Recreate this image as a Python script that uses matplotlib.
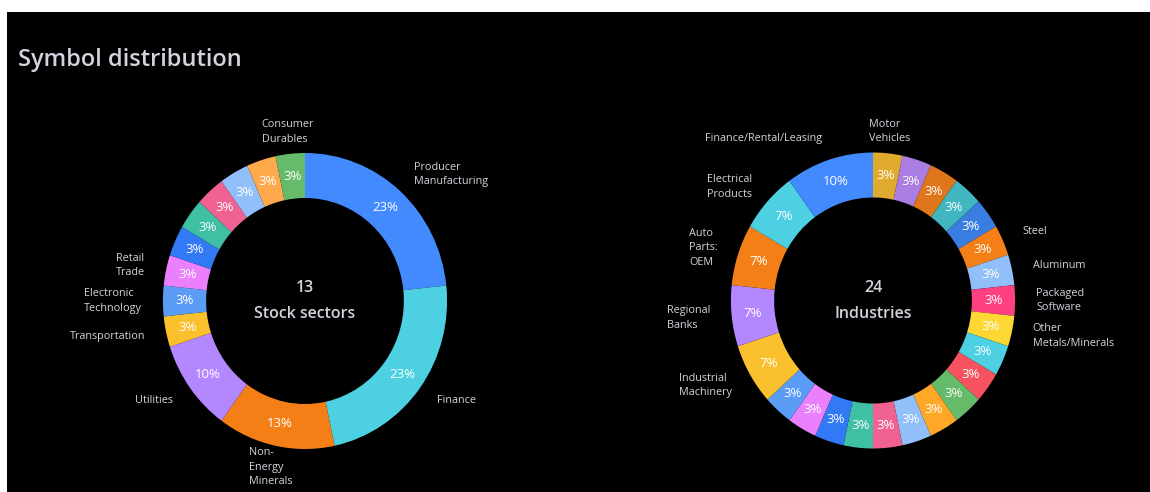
import matplotlib
matplotlib.use("Agg")
import matplotlib.pyplot as plt
from matplotlib.patches import Rectangle
import numpy as np

# ---- data -------------------------------------------------------------
sector_names = [
    "Producer Manufacturing", "Finance", "Non-Energy Minerals", "Utilities",
    "Transportation", "Electronic Technology", "Retail Trade",
    None, None, None, None, None, "Consumer Durables",
]
sector_counts = [7, 7, 4, 3, 1, 1, 1, 1, 1, 1, 1, 1, 1]
sector_colors = [
    "#448AFF", "#4DD0E1", "#F57F17", "#B388FF", "#FBC02D", "#5B9CF6", "#EA80FC",
    "#3179F5", "#3FBFA3", "#F06292", "#90BFF9", "#FFA94D", "#66BB6A",
]

industry_names = [
    "Motor Vehicles", None, None, None, None, "Steel", "Aluminum",
    "Packaged Software", "Other Metals/Minerals",
    None, None, None, None, None, None, None, None, None, None,
    "Industrial Machinery", "Regional Banks", "Auto Parts: OEM",
    "Electrical Products", "Finance/Rental/Leasing",
]
industry_counts = [1] * 19 + [2, 2, 2, 2, 3]
industry_colors = [
    "#E0AA2E", "#A97DE2", "#E0761C", "#3FB6C0", "#3A7DE0", "#F57F17", "#90BFF9",
    "#FF4081", "#FDD835", "#4DD0E1", "#F7525F", "#66BB6A", "#FFA726", "#90BFF9",
    "#F06292", "#3FBFA3", "#3179F5", "#EA80FC", "#5B9CF6",
    "#FBC02D", "#B388FF", "#F57F17", "#4DD0E1", "#448AFF",
]

title = "Symbol distribution"
sector_caption = "Stock sectors"
industry_caption = "Industries"

# ---- styling ----------------------------------------------------------
W, H = 1150, 492
SX = 0.96                      # horizontal scale of the canvas
FONT = ["Open Sans", "DejaVu Sans"]
TEXT = "#D1D4DC"
R_OUT, R_IN = 148, 103
R_LABEL = R_OUT + 22

fig = plt.figure(figsize=(W / 100, H / 100), dpi=100, facecolor="white")
fig.patches.append(Rectangle((7 / W, 0), 1, 1 - 12 / H, transform=fig.transFigure,
                             facecolor="black", edgecolor="none", zorder=-5))
ax = fig.add_axes([0, 0, 1, 1])
ax.patch.set_alpha(0)


def wrap(name):
    return name.replace("-", "-\n").replace(" ", "\n")


def donut(cx, cy, counts, colors, names, caption):
    wedges, _, pcts = ax.pie(
        counts, colors=colors, radius=R_OUT, center=(cx, cy), startangle=90,
        counterclock=False, autopct=lambda p: f"{p:.0f}%",
        pctdistance=(R_OUT + R_IN) / 2 / R_OUT,
        wedgeprops=dict(width=R_OUT - R_IN, linewidth=0),
        textprops=dict(color="white", fontsize=9.5, family=FONT),
        frame=True,
    )
    for w, name in zip(wedges, names):
        if not name:
            continue
        phi = np.deg2rad((w.theta1 + w.theta2) / 2)
        cs, sn = np.cos(phi), np.sin(phi)
        x = cx + R_LABEL * cs
        y = cy + R_LABEL * sn
        if abs(cs) < 0.25:
            ha = "center"
        else:
            ha = "left" if cs > 0 else "right"
        ax.text(x, y, wrap(name), ha=ha, va="center", multialignment="left",
                color=TEXT, fontsize=7.8, family=FONT, linespacing=1.45)
    ax.text(cx, cy + 13, str(len(counts)), ha="center", va="center",
            color=TEXT, fontsize=11.5, fontweight="semibold", family=FONT)
    ax.text(cx, cy - 13, caption, ha="center", va="center",
            color=TEXT, fontsize=11.5, fontweight="semibold", family=FONT)


donut(305 / SX, H - 301, sector_counts, sector_colors, sector_names, sector_caption)
donut(873 / SX, H - 300.5, industry_counts, industry_colors, industry_names,
      industry_caption)

ax.set_aspect("auto")
ax.set_xlim(0, W / SX)
ax.set_ylim(0, H)
ax.axis("off")

fig.text(18 / W, 1 - 60 / H, title, ha="left", va="center", color=TEXT,
         fontsize=17, fontweight="semibold", family=FONT)

fig.savefig("out.png", dpi=100, facecolor="white")
